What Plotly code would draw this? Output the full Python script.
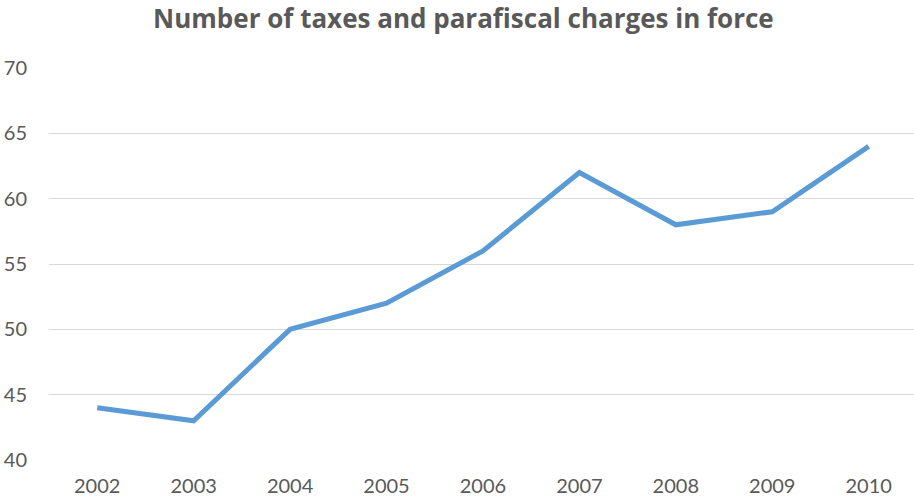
import plotly.graph_objects as go

years = ["2002", "2003", "2004", "2005", "2006", "2007", "2008", "2009", "2010"]
counts = [44, 43, 50, 52, 56, 62, 58, 59, 64]

fig = go.Figure()
fig.add_trace(go.Scatter(
    x=years, y=counts, mode="lines",
    line=dict(color="#5B9BD5", width=5, shape="linear"),
    hoverinfo="x+y",
))

font_family = "Lato, Open Sans, sans-serif"

fig.update_layout(
    width=914, height=503,
    margin=dict(l=49, r=0, t=68, b=43),
    paper_bgcolor="white", plot_bgcolor="white",
    showlegend=False,
    title=dict(
        text="<b>Number of taxes and parafiscal charges in force</b>",
        x=0.507, xanchor="center", y=0.962, yanchor="middle",
        font=dict(family="Open Sans, Noto Sans, sans-serif", size=26, color="#595959"),
    ),
    font=dict(family=font_family, size=20, color="#595959"),
)

fig.update_xaxes(
    type="category", range=[-0.5, 8.47],
    showgrid=False, zeroline=False, showline=False,
    ticks="", ticklabelstandoff=12,
    tickfont=dict(size=20, color="#595959"),
)
fig.update_yaxes(
    range=[40, 70], tickvals=[40, 45, 50, 55, 60, 65, 70],
    showgrid=True, gridcolor="#D9D9D9", gridwidth=1.3,
    zeroline=False, showline=False, ticks="",
    ticklabelstandoff=21,
    tickfont=dict(size=20, color="#595959"),
)

fig.write_html("out.html")
